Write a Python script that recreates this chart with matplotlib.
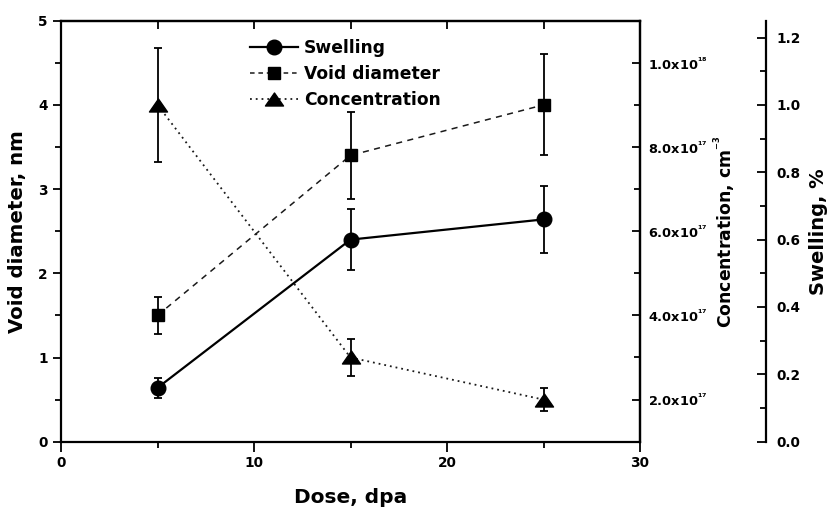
import matplotlib
matplotlib.use("Agg")
import matplotlib.pyplot as plt
from matplotlib.ticker import MultipleLocator, FixedLocator, FuncFormatter
from matplotlib.lines import Line2D
from matplotlib.path import Path

# ---- data ----
dose = [5, 15, 25]
void_diameter = [1.5, 3.4, 4.0]
void_err = [0.22, 0.52, 0.60]
swelling = [0.16, 0.60, 0.66]
swelling_err = [0.03, 0.09, 0.10]
concentration = [9.0e17, 3.0e17, 2.0e17]
conc_err = [1.35e17, 0.44e17, 0.27e17]
labels = ["Swelling", "Void diameter", "Concentration"]

plt.rcParams['font.family'] = ['DejaVu Sans']
plt.rcParams['font.weight'] = 'bold'
plt.rcParams['mathtext.default'] = 'bf'

W, H = 831, 514
fig = plt.figure(figsize=(W / 100, H / 100), dpi=100)
L, R, T, B = 61, 640, 20.7, 441.7
ax = fig.add_axes([L / W, 1 - B / H, (R - L) / W, (B - T) / H])

tri = Path([(0, 0.72), (-1, -0.72), (1, -0.72), (0, 0.72)],
           [Path.MOVETO, Path.LINETO, Path.LINETO, Path.CLOSEPOLY])

TICK_FS = 9.8
lw_sp = 1.6
for s in ax.spines.values():
    s.set_linewidth(lw_sp)

# host axis: void diameter
ax.set_xlim(0, 30)
ax.set_ylim(0, 5)
ax.xaxis.set_major_locator(MultipleLocator(10))
ax.xaxis.set_minor_locator(MultipleLocator(5))
ax.yaxis.set_major_locator(MultipleLocator(1))
ax.yaxis.set_minor_locator(MultipleLocator(0.5))
ax.tick_params(axis='both', which='major', direction='out', length=6, width=1.3,
               labelsize=TICK_FS, pad=3.5)
ax.tick_params(axis='both', which='minor', direction='out', length=4, width=1.3)
ax.tick_params(axis='x', which='major', length=7)
ax.tick_params(right=False, top=False)
for lab in ax.get_xticklabels() + ax.get_yticklabels():
    lab.set_fontweight('bold')
ax.set_xlabel("Dose, dpa", fontsize=14.5, fontweight='bold', labelpad=13)
ax.set_ylabel("Void diameter, nm", fontsize=14.2, fontweight='bold', labelpad=8)

top = ax.secondary_xaxis('top')
top.set_xticks(list(range(0, 31, 5)))
top.tick_params(direction='in', length=6, width=1.3, labeltop=False)
top.spines['top'].set_linewidth(lw_sp)

ax.errorbar(dose, void_diameter, yerr=void_err, color='#1a1a1a', ls=(0, (4, 3.5)),
            lw=1.1, marker='s', ms=9, mfc='black', mec='black', ecolor='black',
            capsize=3, elinewidth=1.3, capthick=1.3, zorder=3)

# concentration axis (right spine of host)
ax2 = ax.twinx()
ax2.set_ylim(1e17, 1.1e18)
ax2.yaxis.set_major_locator(FixedLocator([2e17, 4e17, 6e17, 8e17, 1e18]))
ax2.yaxis.set_minor_locator(MultipleLocator(1e17))


def conc_fmt(v, pos):
    e = 17 if v < 9.5e17 else 18
    m = v / 10 ** e
    return r"%.1fx10$^{{}^{\mathbf{%d}}}$" % (m, e)


ax2.yaxis.set_major_formatter(FuncFormatter(conc_fmt))
ax2.tick_params(axis='y', which='major', direction='in', length=6, width=1.3,
                labelsize=9.3, pad=6)
ax2.tick_params(axis='y', which='minor', direction='in', length=4, width=1.3)
for s in ax2.spines.values():
    s.set_visible(False)
ax2.spines['right'].set_visible(True)
ax2.spines['right'].set_linewidth(lw_sp)
ax2.set_ylabel(r"Concentration, cm$^{{}^{\mathbf{-3}}}$", fontsize=12.4, fontweight='bold')
ax2.yaxis.set_label_coords((711 - L) / (R - L), 0.5)
ax2.errorbar(dose, concentration, yerr=conc_err, color='#1a1a1a', ls=(0, (1, 2.2)),
             lw=1.3, marker=tri, ms=13, mfc='black', mec='black', ecolor='black',
             capsize=3, elinewidth=1.3, capthick=1.3, zorder=3)

# swelling axis (offset)
ax3 = ax.twinx()
ax3.spines['right'].set_position(('axes', (765.7 - L) / (R - L)))
for k in ['top', 'bottom', 'left']:
    ax3.spines[k].set_visible(False)
ax3.spines['right'].set_linewidth(lw_sp)
ax3.set_ylim(0, 1.25)
ax3.yaxis.set_major_locator(MultipleLocator(0.2))
ax3.yaxis.set_minor_locator(MultipleLocator(0.1))
ax3.yaxis.set_major_formatter(FuncFormatter(lambda v, p: "%.1f" % v))
ax3.tick_params(axis='y', which='major', direction='in', length=6.5, width=1.3,
                labelsize=TICK_FS, pad=7.5)
ax3.tick_params(axis='y', which='minor', direction='in', length=4, width=1.3)
ax3.set_ylabel("Swelling, %", fontsize=14, fontweight='bold')
ax3.yaxis.set_label_coords((809 - L) / (R - L), 0.5)
ax3.errorbar(dose, swelling, yerr=swelling_err, color='black', ls='-',
             lw=1.6, marker='o', ms=10.5, capsize=3, elinewidth=1.3, capthick=1.3, zorder=3)

for a in (ax2, ax3):
    for lab in a.get_yticklabels():
        lab.set_fontweight('bold')

handles = [
    Line2D([], [], color='black', ls='-', lw=1.6, marker='o', ms=10.5),
    Line2D([], [], color='#1a1a1a', ls=(0, (3, 2.5)), lw=1.1, marker='s', ms=9,
           mfc='black', mec='black'),
    Line2D([], [], color='#1a1a1a', ls=(0, (1, 2.2)), lw=1.3, marker=tri, ms=13,
           mfc='black', mec='black'),
]
leg = ax.legend(handles, labels, loc='upper left', bbox_to_anchor=(0.315, 0.972),
                frameon=False, fontsize=12.3, handlelength=2.8, handletextpad=0.35,
                labelspacing=0.45, borderaxespad=0)
for t in leg.get_texts():
    t.set_fontweight('bold')

fig.savefig("out.png", dpi=100)
